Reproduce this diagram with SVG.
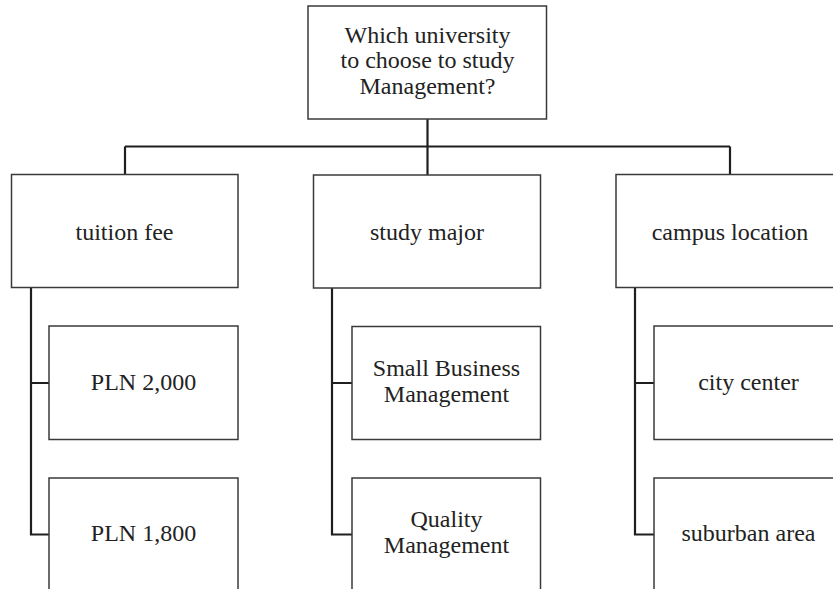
<svg xmlns="http://www.w3.org/2000/svg" width="833" height="589" viewBox="0 0 833 589">
<style>
.box{fill:#fff;stroke:#3a3a3a;stroke-width:1.5}
.t{font-family:"Liberation Serif","Times New Roman",serif;font-size:24px;fill:#222;text-anchor:middle}
.c{fill:none;stroke:#1e1e1e;stroke-width:2.2}
</style>
<rect width="833" height="589" fill="#fff"/>
<g id="connectors">
<path class="c" d="M427.5,119 V175 M125,146.5 H730 M125,146.5 V174.5 M730,146.5 V174.5"/>
<path class="c" d="M31,288 V534.5 H49 M31,383 H49"/>
<path class="c" d="M332,288 V534.5 H352 M332,383 H352"/>
<path class="c" d="M635,288 V534.5 H654 M635,383 H654"/>
</g>
<g id="root">
<rect class="box" x="308" y="6" width="238.5" height="113"/>
<text class="t" x="427.5" y="43">Which university</text>
<text class="t" x="427.5" y="68">to choose to study</text>
<text class="t" x="427.5" y="94">Management?</text>
</g>
<g id="tuition">
<rect class="box" x="11.5" y="174.5" width="226.5" height="113"/>
<text class="t" x="124.5" y="240">tuition fee</text>
</g>
<g id="major">
<rect class="box" x="313.5" y="175" width="227" height="113"/>
<text class="t" x="427" y="240">study major</text>
</g>
<g id="location">
<rect class="box" x="616" y="174.5" width="228" height="113"/>
<text class="t" x="730" y="240">campus location</text>
</g>
<g id="pln2000">
<rect class="box" x="49" y="326" width="189" height="113.5"/>
<text class="t" x="143.5" y="389.5">PLN 2,000</text>
</g>
<g id="pln1800">
<rect class="box" x="49" y="478" width="189" height="120"/>
<text class="t" x="143.5" y="540.5">PLN 1,800</text>
</g>
<g id="smallbiz">
<rect class="box" x="352" y="326.5" width="188.5" height="113"/>
<text class="t" x="446.5" y="376">Small Business</text>
<text class="t" x="446.5" y="401.5">Management</text>
</g>
<g id="quality">
<rect class="box" x="352" y="478" width="188.5" height="120"/>
<text class="t" x="446.5" y="527">Quality</text>
<text class="t" x="446.5" y="552.5">Management</text>
</g>
<g id="city">
<rect class="box" x="654" y="326" width="190" height="113.5"/>
<text class="t" x="748.5" y="389.5">city center</text>
</g>
<g id="suburban">
<rect class="box" x="654" y="478" width="190" height="120"/>
<text class="t" x="748.5" y="541">suburban area</text>
</g>
</svg>
